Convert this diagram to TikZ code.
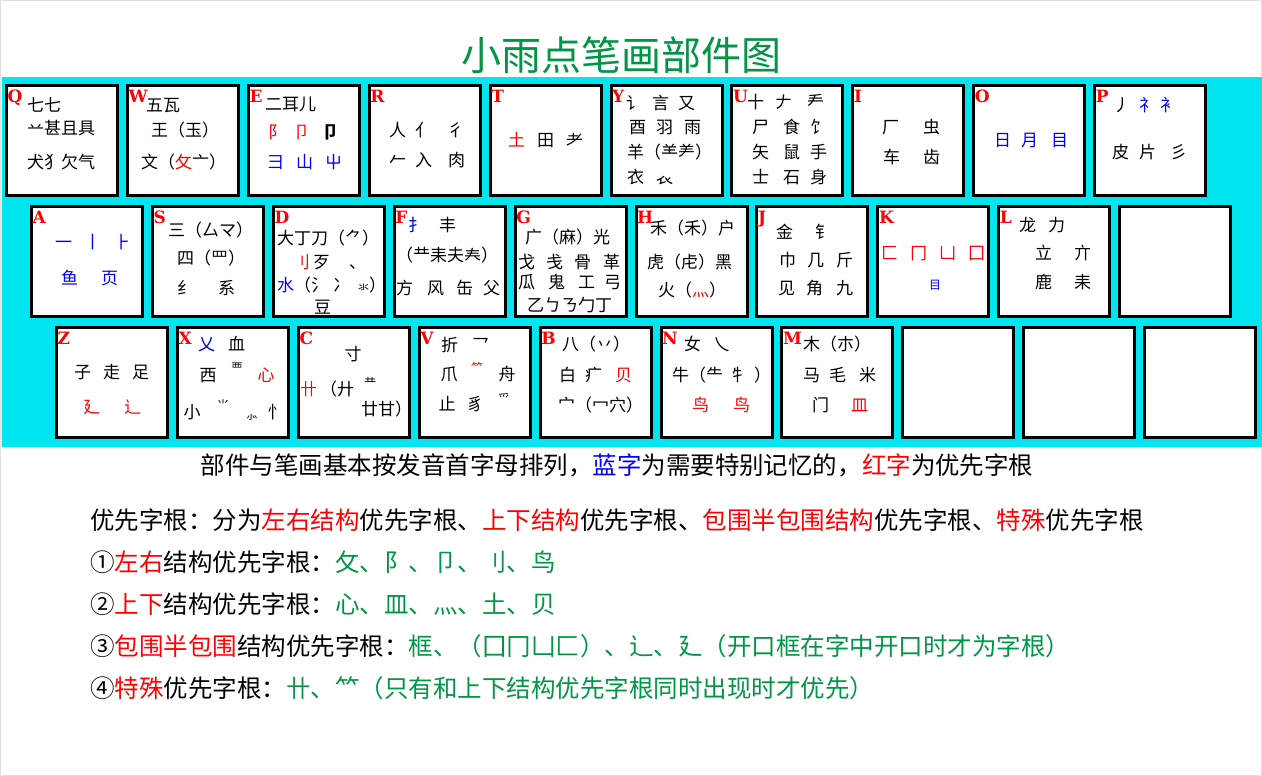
\documentclass[tikz,border=0pt]{standalone}
\usepackage{fontspec}
\setmainfont{Noto Sans CJK SC}
\newfontfamily\keyfont{DejaVu Serif}
\usepackage{tikz}
\usetikzlibrary{positioning}
\definecolor{kbcyan}{RGB}{0,229,240}
\definecolor{kbred}{RGB}{255,0,0}
\definecolor{kbblue}{RGB}{0,0,255}
\definecolor{kbgreen}{RGB}{0,150,70}
\newcommand{\rd}[1]{\textcolor{kbred}{#1}}
\newcommand{\bl}[1]{\textcolor{kbblue}{#1}}
\newcommand{\gr}[1]{\textcolor{kbgreen}{#1}}

\begin{document}
\begin{tikzpicture}[x=1pt, y=-1pt,
  key/.style={draw=black, line width=3pt, fill=white, minimum width=111pt, minimum height=110pt, inner sep=0pt, outer sep=0pt},
  letter/.style={anchor=north west, inner sep=0pt, text=kbred, font=\keyfont\bfseries\fontsize{17}{17}\selectfont},
  ch/.style={anchor=west, inner sep=0pt, font=\fontsize{17}{17}\selectfont, text height=14pt, text depth=1.7pt},
  chc/.style={ch, anchor=center},
  tiny/.style={chc, font=\fontsize{12}{12}\selectfont, text height=10pt, text depth=1.2pt},
  note/.style={anchor=west, inner sep=0pt, font=\fontsize{24.5}{24.5}\selectfont, text height=20pt, text depth=2.5pt}
]
\useasboundingbox (0,0) rectangle (1262,776);
\fill[white] (0,0) rectangle (1262,776);
\draw[black!12, line width=1pt] (0.5,0.5) rectangle (1261.5,775.5);
\fill[kbcyan] (2,77) rectangle (1262,447);

\node[font=\fontsize{40}{40}\selectfont, text=kbgreen, inner sep=0pt] (title) at (621,55) {小雨点笔画部件图};

% row 1
\node[key] (kQ) at (62,140.5) {};
\node[key, right=9.9pt of kQ] (kW) {};
\node[key, right=9.9pt of kW] (kE) {};
\node[key, right=9.9pt of kE] (kR) {};
\node[key, right=9.9pt of kR] (kT) {};
\node[key, right=9.9pt of kT] (kY) {};
\node[key, right=9.9pt of kY] (kU) {};
\node[key, right=9.9pt of kU] (kI) {};
\node[key, right=9.9pt of kI] (kO) {};
\node[key, right=9.9pt of kO] (kP) {};

% row 2
\node[key] (kA) at (87,261.5) {};
\node[key, right=9.9pt of kA] (kS) {};
\node[key, right=9.9pt of kS] (kD) {};
\node[key, right=9.9pt of kD] (kF) {};
\node[key, right=9.9pt of kF] (kG) {};
\node[key, right=9.9pt of kG] (kH) {};
\node[key, right=9.9pt of kH] (kJ) {};
\node[key, right=9.9pt of kJ] (kK) {};
\node[key, right=9.9pt of kK] (kL) {};
\node[key, right=9.9pt of kL] (kSemi) {};

% row 3
\node[key] (kZ) at (112,382.5) {};
\node[key, right=9.9pt of kZ] (kX) {};
\node[key, right=9.9pt of kX] (kC) {};
\node[key, right=9.9pt of kC] (kV) {};
\node[key, right=9.9pt of kV] (kB) {};
\node[key, right=9.9pt of kB] (kN) {};
\node[key, right=9.9pt of kN] (kM) {};
\node[key, right=9.9pt of kM] (kComma) {};
\node[key, right=9.9pt of kComma] (kPeriod) {};
\node[key, right=9.9pt of kPeriod] (kSlash) {};

% key letters
\node[letter] (lQ) at ([shift={(1,4.5)}]kQ.north west) {Q};
\node[letter] (lW) at ([shift={(1,4.5)}]kW.north west) {W};
\node[letter] (lE) at ([shift={(1,4.5)}]kE.north west) {E};
\node[letter] (lR) at ([shift={(1,4.5)}]kR.north west) {R};
\node[letter] (lT) at ([shift={(1,4.5)}]kT.north west) {T};
\node[letter] (lY) at ([shift={(1,4.5)}]kY.north west) {Y};
\node[letter] (lU) at ([shift={(1,4.5)}]kU.north west) {U};
\node[letter] (lI) at ([shift={(1,4.5)}]kI.north west) {I};
\node[letter] (lO) at ([shift={(1,4.5)}]kO.north west) {O};
\node[letter] (lP) at ([shift={(1,4.5)}]kP.north west) {P};
\node[letter] (lA) at ([shift={(1,4.5)}]kA.north west) {A};
\node[letter] (lS) at ([shift={(1,4.5)}]kS.north west) {S};
\node[letter] (lD) at ([shift={(1,4.5)}]kD.north west) {D};
\node[letter] (lF) at ([shift={(1,4.5)}]kF.north west) {F};
\node[letter] (lG) at ([shift={(1,4.5)}]kG.north west) {G};
\node[letter] (lH) at ([shift={(1,4.5)}]kH.north west) {H};
\node[letter] (lJ) at ([shift={(1,4.5)}]kJ.north west) {J};
\node[letter] (lK) at ([shift={(1,4.5)}]kK.north west) {K};
\node[letter] (lL) at ([shift={(1,4.5)}]kL.north west) {L};
\node[letter] (lZ) at ([shift={(1,4.5)}]kZ.north west) {Z};
\node[letter] (lX) at ([shift={(1,4.5)}]kX.north west) {X};
\node[letter] (lC) at ([shift={(1,4.5)}]kC.north west) {C};
\node[letter] (lV) at ([shift={(1,4.5)}]kV.north west) {V};
\node[letter] (lB) at ([shift={(1,4.5)}]kB.north west) {B};
\node[letter] (lN) at ([shift={(1,4.5)}]kN.north west) {N};
\node[letter] (lM) at ([shift={(1,4.5)}]kM.north west) {M};

% row 1 contents
\node[ch] (tQ1) at (27,105) {七七};
\node[ch] (tQ2) at (27,128) {䒑甚且具};
\node[ch] (tQ3) at (27,162) {犬犭欠气};
\node[ch] (tW1) at (146,105) {五瓦};
\node[ch] (tW2) at (151,130) {王（玉）};
\node[ch] (tW3) at (141,162) {文（\rd{攵}亠）};
\node[ch] (tE1) at (265,104) {二耳儿};
\node[ch] (tE2) at (268,132) {\rd{阝\hspace{8pt}卩}};
\node[chc] (tE3) at (330,132) {\bfseries 卩};
\node[ch] (tE4) at (267,162) {\bl{彐\hspace{12pt}山\hspace{12pt}屮}};
\node[ch] (tR1) at (389,130) {人\hspace{9pt}亻\hspace{15pt}彳};
\node[ch] (tR2) at (389,160) {𠂉\hspace{9pt}入\hspace{16pt}肉};
\node[ch] (tT1) at (508,140) {\rd{土}\hspace{12pt}田\hspace{12pt}耂};
\node[ch] (tY1) at (626,103) {讠\hspace{9pt}言\hspace{9pt}又};
\node[ch] (tY2) at (629,127) {酉\hspace{10pt}羽\hspace{11pt}雨};
\node[ch] (tY3) at (627,152) {羊（⺷⺶）};
\node[ch] (tY4) at (627,177) {衣\hspace{12pt}𧘇};
\node[ch] (tU1) at (747,102) {十\hspace{11pt}𠂇\hspace{15pt}龵};
\node[ch] (tU2) at (752,127) {尸\hspace{14pt}食\hspace{10pt}饣};
\node[ch] (tU3) at (752,152) {矢\hspace{14pt}鼠\hspace{10pt}手};
\node[ch] (tU4) at (752,177) {士\hspace{14pt}石\hspace{10pt}身};
\node[ch] (tI1) at (882,127) {厂\hspace{24pt}虫};
\node[ch] (tI2) at (883,157) {车\hspace{23pt}齿};
\node[ch] (tO1) at (994,140) {\bl{日\hspace{10pt}月\hspace{13pt}目}};
\node[ch] (tP1) at (1113,105) {丿\hspace{9pt}\bl{礻\hspace{4pt}衤}};
\node[ch] (tP2) at (1112,152) {皮\hspace{10pt}片\hspace{14pt}彡};

% row 2 contents
\node[ch] (tA1) at (55,242) {\bl{一\hspace{12pt}丨\hspace{13pt}⺊}};
\node[ch] (tA2) at (61,278) {\bl{鱼\hspace{23pt}页}};
\node[ch] (tS1) at (168,230) {三（厶マ）};
\node[ch] (tS2) at (177,258) {四（罒）};
\node[ch] (tS3) at (177,288) {纟\hspace{24pt}系};
\node[ch] (tD1) at (277,238) {大丁刀（⺈）};
\node[ch] (tD2) at (293,262) {\rd{刂}\hspace{3pt}歹\hspace{19pt}、};
\node[ch] (tD3) at (277,285) {\bl{水}（氵\hspace{5pt}冫\hspace{8pt}{\fontsize{11}{11}\selectfont 氺}）};
\node[ch] (tD4) at (314,307) {豆};
\node[ch] (tF1) at (408,225) {\bl{扌}\hspace{14pt}丰};
\node[ch] (tF2) at (396,255) {（龷耒夫𡗗）};
\node[ch] (tF3) at (396,288) {方\hspace{14pt}风\hspace{12pt}缶\hspace{10pt}父};
\node[ch] (tG1) at (525,237) {广（麻）光};
\node[ch] (tG2) at (518,262) {戈\hspace{11pt}戋\hspace{11pt}骨\hspace{12pt}革};
\node[ch] (tG3) at (518,282) {瓜\hspace{13pt}鬼\hspace{13pt}工\hspace{9pt}弓};
\node[ch] (tG4) at (527,305) {乙ㄅㄋ勹丁};
\node[ch] (tH1) at (650,228) {禾（⽲）户};
\node[ch] (tH2) at (647,262) {虎（虍）黑};
\node[ch] (tH3) at (658,290) {火（\rd{灬}）};
\node[ch] (tJ1) at (776,232) {金\hspace{22pt}钅};
\node[ch] (tJ2) at (779,260) {巾\hspace{11pt}几\hspace{12pt}斤};
\node[ch] (tJ3) at (778,288) {见\hspace{11pt}角\hspace{13pt}九};
\node[ch] (tK1) at (881,253) {\rd{匚\hspace{12pt}冂\hspace{12pt}凵\hspace{12pt}囗}};
\node[tiny] (tK2) at (935,285) {\bl{目}};
\node[ch] (tL1) at (1019,225) {龙\hspace{12pt}力};
\node[ch] (tL2) at (1035,253) {立\hspace{22pt}亣};
\node[ch] (tL3) at (1035,282) {鹿\hspace{22pt}耒};

% row 3 contents
\node[ch] (tZ1) at (74,372) {子\hspace{12pt}走\hspace{12pt}足};
\node[ch] (tZ2) at (83,407) {\rd{廴\hspace{24pt}辶}};
\node[ch] (tX1) at (198,344) {\bl{乂}\hspace{13pt}血};
\node[chc] (tX2) at (208,375) {西};
\node[tiny] (tX3) at (237,368) {覀};
\node[chc] (tX4) at (266,375) {\rd{心}};
\node[chc] (tX5) at (192,412) {小};
\node[tiny] (tX6) at (223,405) {⺌};
\node[tiny] (tX7) at (252,415) {⺗};
\node[chc] (tX8) at (276,412) {忄};
\node[chc] (tC1) at (353,354) {寸};
\node[ch] (tC2) at (300,389) {\rd{卄}\hspace{3pt}（廾};
\node[tiny] (tC3) at (370,383) {龷};
\node[ch] (tC4) at (361,409) {廿甘）};
\node[ch] (tV1) at (441,345) {折\hspace{14pt}乛};
\node[chc] (tV2) at (449,374) {爪};
\node[tiny] (tV3) at (477,368) {\rd{⺮}};
\node[chc] (tV4) at (507,374) {舟};
\node[chc] (tV5) at (447,404) {止};
\node[chc] (tV6) at (475,404) {豸};
\node[tiny] (tV7) at (504,399) {爫};
\node[ch] (tB1) at (562,344) {八（丷）};
\node[ch] (tB2) at (559,375) {白\hspace{9pt}疒\hspace{13pt}\rd{贝}};
\node[ch] (tB3) at (558,405) {宀（冖穴）};
\node[ch] (tN1) at (684,344) {女\hspace{12pt}乀};
\node[ch] (tN2) at (672,375) {牛（⺧\hspace{6pt}牜\hspace{8pt}）};
\node[ch] (tN3) at (692,405) {\rd{鸟\hspace{24pt}⻦}};
\node[ch] (tM1) at (803,344) {木（朩）};
\node[ch] (tM2) at (803,375) {马\hspace{9pt}毛\hspace{13pt}米};
\node[ch] (tM3) at (812,405) {门\hspace{22pt}\rd{皿}};

% notes below the keyboard
\node[note, anchor=center] (cap) at (617,466) {部件与笔画基本按发音首字母排列，\bl{蓝字}为需要特别记忆的，\rd{红字}为优先字根};
\node[note] (rule0) at (90,521) {优先字根：分为\rd{左右结构}优先字根、\rd{上下结构}优先字根、\rd{包围半包围结构}优先字根、\rd{特殊}优先字根};
\node[note] (rule1) at (90,563) {①\rd{左右}结构优先字根：\gr{攵、阝、卩、刂、鸟}};
\node[note] (rule2) at (90,605) {②\rd{上下}结构优先字根：\gr{心、皿、灬、土、贝}};
\node[note] (rule3) at (90,647) {③\rd{包围半包围}结构优先字根：\gr{框、（囗冂凵匚）、辶、廴（开口框在字中开口时才为字根）}};
\node[note] (rule4) at (90,689) {④\rd{特殊}优先字根：\gr{卄、⺮（只有和上下结构优先字根同时出现时才优先）}};
\end{tikzpicture}
\end{document}
